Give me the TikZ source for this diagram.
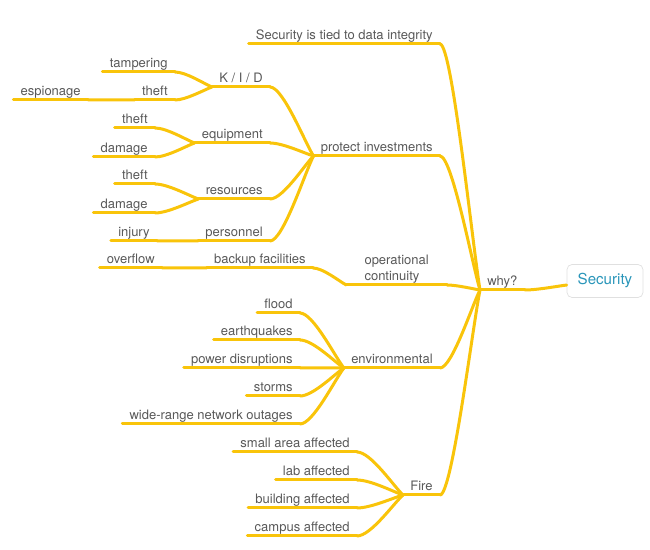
\documentclass[tikz,border=0pt]{standalone}
\usepackage{fontspec}
\setmainfont{TeX Gyre Heros}
\usetikzlibrary{calc}
\definecolor{branchgold}{RGB}{249,196,10}
\definecolor{labelgrey}{RGB}{88,88,88}
\definecolor{rootteal}{RGB}{42,150,186}
\tikzset{
	topic/.style={anchor=south east, inner xsep=0.14cm, inner ysep=0.09cm, text depth=0pt, text=labelgrey, font=\fontsize{7.4}{9}\selectfont},
	wire/.style={draw=branchgold, line width=0.06cm, line cap=round},
	twig/.style={to path={.. controls ($(\tikztostart)!0.3!(\tikztotarget |- \tikztostart)$) and ($(\tikztostart)!0.8!(\tikztotarget)$) .. (\tikztotarget)}}
}
\begin{document}
\begin{tikzpicture}[x=0.02cm, y=-0.02cm]
	\useasboundingbox (0,0) rectangle (650,550);
	% Root
	\node[draw=black!12, fill=white, rounded corners=0.1cm, minimum width=1.52cm, minimum height=0.66cm, text=rootteal, font=\fontsize{8.6}{10}\selectfont] (security) at (605,281) {Security};
	\node[topic, anchor=south west] (why) at (480,290) {why?};
	% Main branches
	\node[topic] (integ) at (440,44) {Security is tied to data integrity};
	\node[topic] (prot) at (440,156) {protect investments};
	\node[topic, align=left, minimum width=2cm] (opcont) at (447,285) {operational\\continuity};
	\node[topic] (env) at (440,368) {environmental};
	\node[topic] (fire) at (440,495) {Fire};
	% protect investments
	\node[topic] (kid) at (270,87) {K / I / D};
	\node[topic] (equip) at (270,143) {equipment};
	\node[topic] (reso) at (270,199) {resources};
	\node[topic] (staff) at (270,241) {personnel};
	\node[topic] (tamper) at (175,72) {tampering};
	\node[topic] (kidtheft) at (175,100) {theft};
	\node[topic] (espion) at (88,100) {espionage};
	\node[topic] (eqtheft) at (155,128) {theft};
	\node[topic] (eqdamage) at (155,157) {damage};
	\node[topic] (retheft) at (155,184) {theft};
	\node[topic] (redamage) at (155,213) {damage};
	\node[topic] (injury) at (157,241) {injury};
	% operational continuity
	\node[topic] (backup) at (313,268) {backup facilities};
	\node[topic] (overflow) at (162,268) {overflow};
	% environmental
	\node[topic] (flood) at (300,313) {flood};
	\node[topic] (quake) at (300,340) {earthquakes};
	\node[topic] (power) at (300,368) {power disruptions};
	\node[topic] (storms) at (300,396) {storms};
	\node[topic] (outage) at (300,424) {wide-range network outages};
	% Fire
	\node[topic] (small) at (357,452) {small area affected};
	\node[topic] (lab) at (357,480) {lab affected};
	\node[topic] (bldg) at (357,508) {building affected};
	\node[topic] (campus) at (357,536) {campus affected};
	% Underlines
	\foreach \n in {why, integ, prot, opcont, env, fire, kid, equip, reso, staff, tamper, kidtheft, espion, eqtheft, eqdamage, retheft, redamage, injury, backup, overflow, flood, quake, power, storms, outage, small, lab, bldg, campus}
		\draw[wire] (\n.south west) -- (\n.south east);
	% Branches
	\draw[wire] (why.south east) to[twig] (security.186);
	\foreach \a/\b in {integ/why, prot/why, opcont/why, env/why, fire/why, kid/prot, equip/prot, reso/prot, staff/prot, tamper/kid, kidtheft/kid, espion/kidtheft, eqtheft/equip, eqdamage/equip, retheft/reso, redamage/reso, injury/staff, backup/opcont, overflow/backup, flood/env, quake/env, power/env, storms/env, outage/env, small/fire, lab/fire, bldg/fire, campus/fire}
		\draw[wire] (\a.south east) to[twig] (\b.south west);
\end{tikzpicture}
\end{document}
